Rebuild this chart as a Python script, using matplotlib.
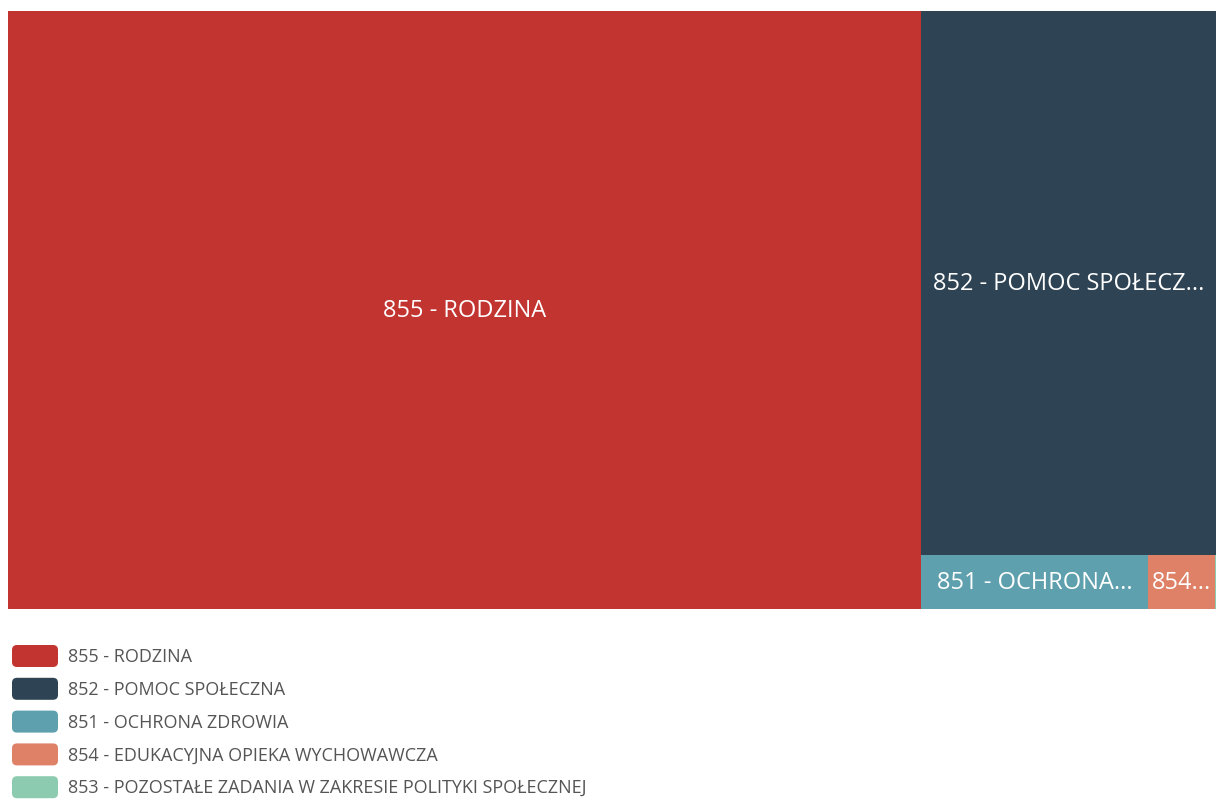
import matplotlib.pyplot as plt
from matplotlib.patches import Rectangle, FancyBboxPatch

# data (shares of total)
names = ['855 - RODZINA', '852 - POMOC SPOŁECZNA', '851 - OCHRONA ZDROWIA',
         '854 - EDUKACYJNA OPIEKA WYCHOWAWCZA',
         '853 - POZOSTAŁE ZADANIA W ZAKRESIE POLITYKI SPOŁECZNEJ']
values = [75.6, 22.2, 1.69, 0.505, 0.005]
tile_labels = ['855 - RODZINA', '852 - POMOC SPOŁECZ...', '851 - OCHRONA...', '854...', '']
colors = ['#C23430', '#2E4353', '#5EA0AD', '#DE8167', '#8CCBB0']

plt.rcParams['font.family'] = ['Open Sans', 'DejaVu Sans']


def worst(row, side):
    s = sum(row)
    return max(max(side * side * r / (s * s), s * s / (side * side * r)) for r in row)


def squarify(vals, x, y, w, h):
    # classic squarified layout, vals already sorted descending
    total = sum(vals)
    scale = w * h / total
    areas = [v * scale for v in vals]
    rects = []
    while areas:
        side = min(w, h)
        row = [areas[0]]
        i = 1
        while i < len(areas) and worst(row + [areas[i]], side) <= worst(row, side):
            row.append(areas[i])
            i += 1
        s = sum(row)
        if w >= h:
            cw = s / h
            cy = y
            for a in row:
                rects.append((x, cy, cw, a / cw))
                cy += a / cw
            x += cw
            w -= cw
        else:
            ch = s / w
            cx = x
            for a in row:
                rects.append((cx, y, a / ch, ch))
                cx += a / ch
            y += ch
            h -= ch
        areas = areas[i:]
    return rects


fig = plt.figure(figsize=(12.16, 8.12), dpi=100)
ax = fig.add_axes([0, 0, 1, 1])
ax.set_xlim(0, 1216)
ax.set_ylim(812, 0)
ax.axis('off')

rects = squarify(values, 8, 12, 1208, 598)
for (x, y, w, h), c, lab in zip(rects, colors, tile_labels):
    ax.add_patch(Rectangle((x, y), w, h, facecolor=c, edgecolor='none'))
    if lab:
        ax.text(x + w / 2, y + h / 2, lab, color='white', fontsize=17,
                ha='center', va='center')

# legend
for i, (n, c) in enumerate(zip(names, colors)):
    yc = 657 + i * 32.8
    ax.add_patch(FancyBboxPatch((15, yc - 8), 40, 16,
                                boxstyle='round,pad=3,rounding_size=5',
                                facecolor=c, edgecolor='none'))
    ax.text(68, yc, n, color='#555555', fontsize=13, ha='left', va='center')

fig.savefig('out.png', dpi=100)
